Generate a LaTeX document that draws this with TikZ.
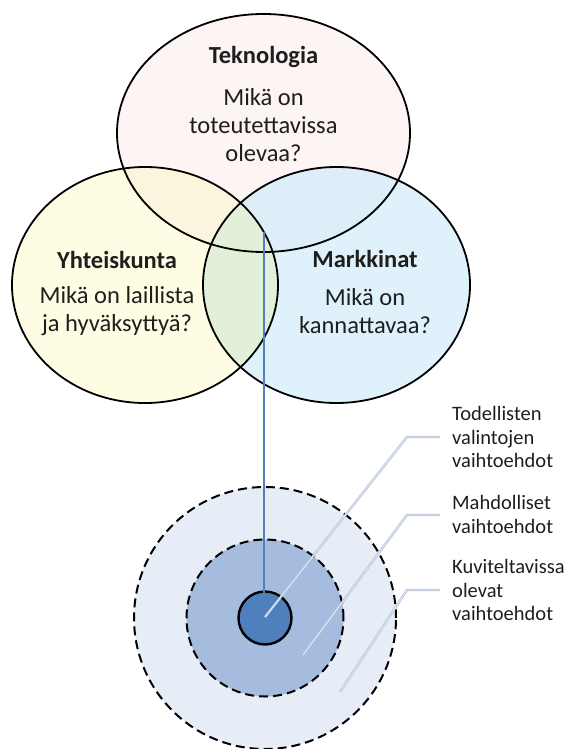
\documentclass[tikz,border=0pt]{standalone}
\usepackage{fontspec}
\setmainfont{Carlito}
\definecolor{pinkf}{HTML}{FDF4F4}
\definecolor{yellowf}{HTML}{FEFDE4}
\definecolor{bluef}{HTML}{DFF2FB}
\definecolor{tlf}{HTML}{FCF5DD}
\definecolor{trf}{HTML}{DDEEF8}
\definecolor{lrf}{HTML}{E2F0DA}
\definecolor{lineblue}{HTML}{4F81BD}
\definecolor{outerf}{HTML}{E6EDF7}
\definecolor{midf}{HTML}{A5BCDE}
\definecolor{innerf}{HTML}{4F7FBD}
\definecolor{leadc}{HTML}{B4C3DB}
\definecolor{leadin}{HTML}{E6EBF3}
\definecolor{txt}{HTML}{1E1E1E}
\begin{document}
\begin{tikzpicture}[x=1pt,y=-1pt,
  venntitle/.style={font=\fontsize{24.5}{28}\selectfont\bfseries, text=txt, inner sep=0pt},
  vennbody/.style={font=\fontsize{24.5}{28}\selectfont, text=txt, align=center, inner sep=0pt},
  ringlabel/.style={font=\fontsize{20.5}{23.5}\selectfont, text=txt, align=left, anchor=west, inner sep=0pt},
  vennline/.style={draw=black, line width=1.8pt},
  ringdash/.style={draw=black, line width=2pt, dash pattern=on 9pt off 5pt},
  leader/.style={draw=leadc, double=leadin, double distance=0.8pt, line width=0.8pt},
  conn/.style={draw=lineblue, line width=1.6pt}]
\useasboundingbox (0,0) rectangle (572,749);
\def\topE{(263.5,133) ellipse [x radius=146.5, y radius=119]}
\def\leftE{(145,285) ellipse [x radius=133, y radius=118]}
\def\rightE{(336.5,285) ellipse [x radius=133.5, y radius=118]}
% fills
\fill[pinkf] \topE;
\fill[yellowf] \leftE;
\fill[bluef] \rightE;
\begin{scope}\clip \topE; \fill[tlf] \leftE; \end{scope}
\begin{scope}\clip \topE; \fill[trf] \rightE; \end{scope}
\begin{scope}\clip \leftE; \fill[lrf] \rightE; \end{scope}
% outlines
\draw[vennline] \topE;
\draw[vennline] \leftE;
\draw[vennline] \rightE;
% texts
\node[venntitle] (t1) at (263.5,57) {Teknologia};
\node[vennbody] (b1) at (263.5,125) {Mikä on\\toteutettavissa\\olevaa?};
\node[venntitle] (t2) at (117,260) {Yhteiskunta};
\node[vennbody] (b2) at (117,311) {Mikä on laillista\\ja hyväksyttyä?};
\node[venntitle] (t3) at (365,259) {Markkinat};
\node[vennbody] (b3) at (365,311) {Mikä on\\kannattavaa?};
% rings
\node[circle, fill=outerf, ringdash, minimum size=262pt, inner sep=0pt] (outer) at (265,618) {};
\node[circle, fill=midf, ringdash, minimum size=157pt, inner sep=0pt] (mid) at (265,618) {};
\node[circle, fill=innerf, draw=black, line width=2.4pt, minimum size=53pt, inner sep=0pt] (inner) at (265,618) {};
% connector from Venn centre
\coordinate (vstart) at (264,232);
\draw[conn] (vstart) -- (vstart |- inner.center);
% labels
\node[ringlabel] (lab1) at (452,437) {Todellisten\\valintojen\\vaihtoehdot};
\node[ringlabel] (lab2) at (452,514.5) {Mahdolliset\\vaihtoehdot};
\node[ringlabel] (lab3) at (452,590) {Kuviteltavissa\\olevat\\vaihtoehdot};
% leader lines
\coordinate (s1) at (265,617);
\coordinate (s2) at (303,655);
\coordinate (s3) at (340,692);
\coordinate (k1) at (407,437);
\coordinate (k2) at (407,515);
\coordinate (k3) at (407,590);
\draw[leader] (s1) -- (k1) -- ([xshift=-12pt]lab1.west);
\draw[leader] (s2) -- (k2) -- ([xshift=-12pt]lab2.west |- k2);
\draw[leader] (s3) -- (k3) -- ([xshift=-12pt]lab3.west);
\end{tikzpicture}
\end{document}
